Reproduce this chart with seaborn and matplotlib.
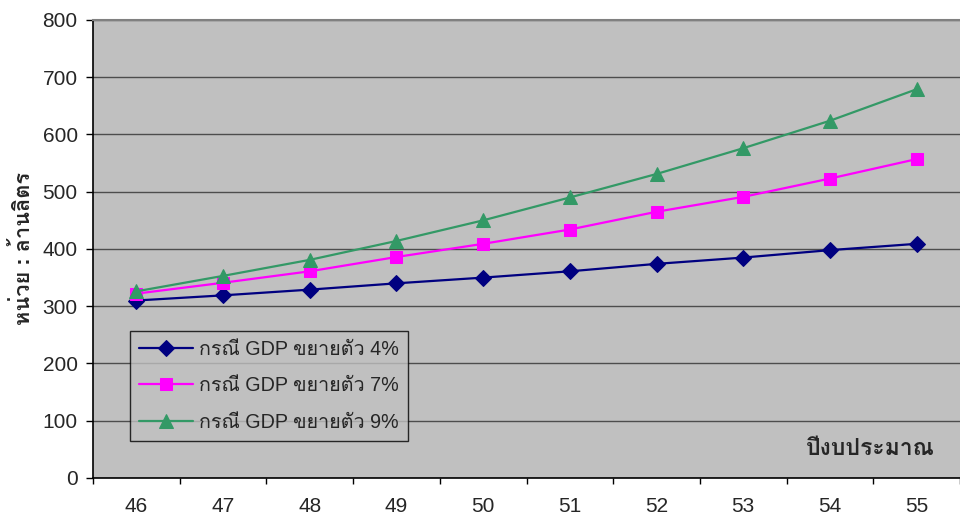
import numpy as np
import pandas as pd
import matplotlib
matplotlib.use("Agg")
import matplotlib.pyplot as plt
from matplotlib import font_manager
from matplotlib.ft2font import FT2Font
import seaborn as sns

years = ["46", "47", "48", "49", "50", "51", "52", "53", "54", "55"]
gdp4 = [310, 319, 329, 340, 350, 361, 374, 385, 398, 409]
gdp7 = [322, 341, 361, 386, 409, 434, 465, 491, 523, 557]
gdp9 = [326, 353, 381, 414, 450, 490, 531, 576, 624, 679]
series_labels = ["กรณี GDP ขยายตัว 4%", "กรณี GDP ขยายตัว 7%", "กรณี GDP ขยายตัว 9%"]
y_ticks = [0, 100, 200, 300, 400, 500, 600, 700, 800]
x_title = "ปีงบประมาณ"
y_title = "หน่วย : ล้านลิตร"


def find_thai_family():
    seen = set()
    found = []
    for fe in font_manager.fontManager.ttflist:
        if fe.name in seen:
            continue
        seen.add(fe.name)
        try:
            cmap = FT2Font(fe.fname).get_charmap()
        except Exception:
            continue
        if 0x0E01 in cmap and 0x0E13 in cmap:
            found.append(fe.name)
    return found


sns.set_theme(style="white")
thai = find_thai_family()
families = ["Liberation Sans"] + thai + ["DejaVu Sans"]
plt.rcParams["font.family"] = families

df = pd.DataFrame({
    "pos": np.arange(len(years)),
    "g4": gdp4, "g7": gdp7, "g9": gdp9,
})

fig = plt.figure(figsize=(9.6, 5.2), dpi=100)
ax = fig.add_axes([0.0969, 0.0808, 0.9031, 0.8808])
ax.set_facecolor("#C0C0C0")

styles = [
    ("g4", "#000080", "D", 8.5),
    ("g7", "#FF00FF", "s", 8.5),
    ("g9", "#339966", "^", 10),
]
for (col, color, mk, ms), lab in zip(styles, series_labels):
    sns.lineplot(data=df, x="pos", y=col, ax=ax, color=color, marker=mk,
                 markersize=ms, markeredgecolor=color, linewidth=1.6,
                 label=lab, zorder=3)

ax.set_xlim(-0.5, len(years) - 0.5)
ax.set_ylim(0, 800)
ax.set_yticks(y_ticks)
ax.set_yticklabels([str(v) for v in y_ticks])
ax.grid(axis="y", color="#4D4D4D", linewidth=1.0, zorder=1)
ax.set_axisbelow(True)

ax.set_xticks(np.arange(-0.5, len(years), 1.0))
ax.set_xticklabels([])
ax.set_xticks(np.arange(len(years)), minor=True)
ax.set_xticklabels(years, minor=True)
ax.tick_params(axis="x", which="major", direction="out", length=4, width=1, color="black", bottom=True)
ax.tick_params(axis="x", which="minor", length=0, pad=14, labelsize=15)
ax.tick_params(axis="y", direction="out", length=5, width=1, color="black", left=True, pad=6, labelsize=15)

for side in ["left", "bottom"]:
    ax.spines[side].set_color("black")
    ax.spines[side].set_linewidth(1.2)
ax.spines["top"].set_color("#808080")
ax.spines["top"].set_linewidth(1.5)
ax.spines["right"].set_visible(False)

ax.set_xlabel("")
ax.set_ylabel("")
fig.text(0.025, 0.523, y_title, rotation=90, ha="center", va="center",
         fontsize=15.7, fontweight="bold")
ax.text(0.897, 0.065, x_title, transform=ax.transAxes, ha="center", va="center",
        fontsize=16.5, fontweight="bold")

leg = ax.legend(loc="lower left", bbox_to_anchor=(0.043, 0.081), borderaxespad=0,
                frameon=True, fancybox=False, facecolor="#C0C0C0", edgecolor="black",
                fontsize=14.2, handlelength=2.75, labelspacing=0.9, borderpad=0.45,
                handletextpad=0.3)
leg.get_frame().set_linewidth(1.0)

fig.savefig("out.png", dpi=100)
